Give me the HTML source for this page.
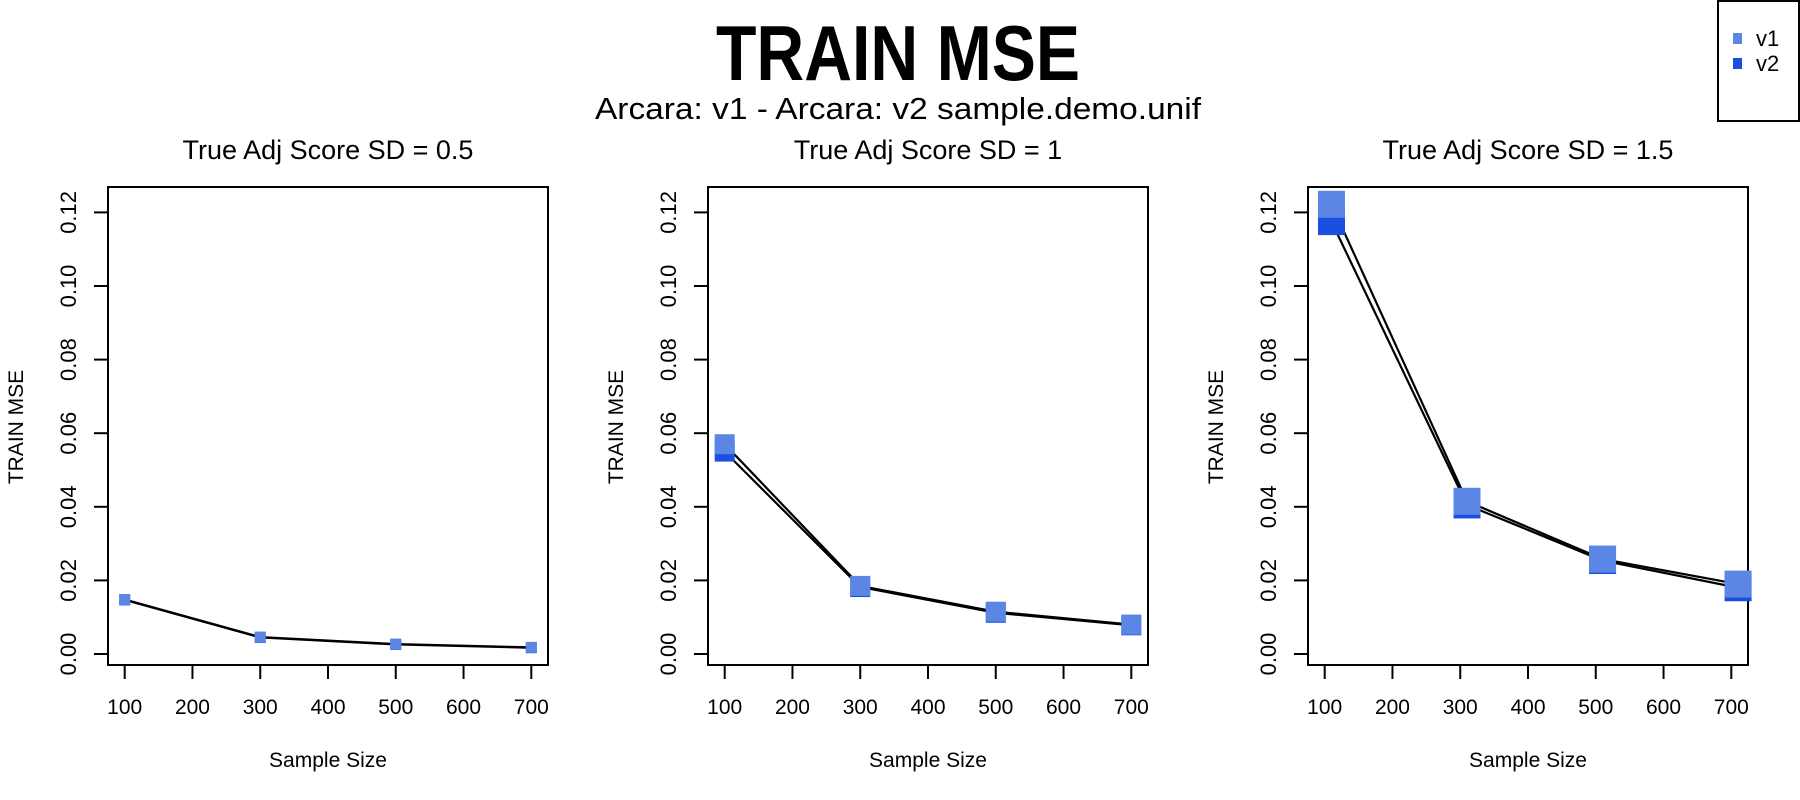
<!DOCTYPE html>
<html><head><meta charset="utf-8"><style>
html,body{margin:0;padding:0;background:#fff;}
svg{display:block;font-family:"Liberation Sans",Arial,sans-serif;}
</style></head><body>
<svg id="chart" width="1800" height="800" viewBox="0 0 1800 800">
<text x="898" y="80" text-anchor="middle" font-size="78" font-weight="bold" textLength="364" lengthAdjust="spacingAndGlyphs">TRAIN MSE</text>
<text x="898" y="119" text-anchor="middle" font-size="31" textLength="606" lengthAdjust="spacingAndGlyphs">Arcara: v1 - Arcara: v2 sample.demo.unif</text>
<g>
<rect x="1718" y="1" width="81" height="120" fill="#fff" stroke="#000" stroke-width="2"/>
<rect x="1733" y="33" width="9" height="11" fill="#5b86e5"/>
<text x="1756" y="46" font-size="22">v1</text>
<rect x="1733" y="58" width="9" height="11" fill="#1a4fe0"/>
<text x="1756" y="71" font-size="22">v2</text>
</g>
</svg>
<script>
const panelTitles = ["True Adj Score SD = 0.5","True Adj Score SD = 1","True Adj Score SD = 1.5"];
const sampleSizes = [100,300,500,700];
const v1Values = [[0.0148,0.0046,0.0027,0.0018],[0.057,0.0185,0.0115,0.008],[0.1222,0.0415,0.0258,0.0190]];
const v2Values = [[0.0147,0.0045,0.0026,0.0017],[0.055,0.0182,0.0112,0.0078],[0.1175,0.0405,0.0254,0.0180]];
const xJitter = [0,0,10];
const markerSizes = [11,20,27];
const yTicks = [0,0.02,0.04,0.06,0.08,0.10,0.12];
const yTickLabels = ["0.00","0.02","0.04","0.06","0.08","0.10","0.12"];
const xTicks = [100,200,300,400,500,600,700];

const svgEl = document.getElementById('chart');
const NS = 'http://www.w3.org/2000/svg';
function mk(tag, attrs, parent){const e=document.createElementNS(NS,tag);for(const k in attrs)e.setAttribute(k,attrs[k]);(parent||svgEl).appendChild(e);return e;}

const plotTop=187, plotBottom=665, plotWidth=440;
function yScale(v){return 654 - v*3680;}
panelTitles.forEach((title,p)=>{
  const left = 108 + 600*p;
  const xScale = x => left + 16.7 + (x-100)*(406.6/600);
  const g = mk('g',{});
  
  
  const t = mk('text',{x:left+plotWidth/2,y:159,'text-anchor':'middle','font-size':27},g);
  t.textContent = title;
  
  
  const box = mk('rect',{x:left,y:plotTop,width:plotWidth,height:plotBottom-plotTop,fill:'none',stroke:'#000','stroke-width':2},g);
  
  
  yTicks.forEach((v,i)=>{
    const y=yScale(v);
    const tk=mk('line',{x1:left-14,x2:left,y1:y,y2:y,stroke:'#000','stroke-width':2},g);
    
    
    const lb=mk('text',{x:0,y:0,'text-anchor':'middle','font-size':22,transform:`translate(${left-32},${y}) rotate(-90)`},g);
    lb.textContent=yTickLabels[i];
    
    
  });
  xTicks.forEach(v=>{
    const x=xScale(v);
    const tk=mk('line',{x1:x,x2:x,y1:plotBottom,y2:plotBottom+14,stroke:'#000','stroke-width':2},g);
    
    
    const lb=mk('text',{x:x,y:714,'text-anchor':'middle','font-size':21},g);
    lb.textContent=v;
    
    
  });
  const yt=mk('text',{x:0,y:0,'text-anchor':'middle','font-size':21,transform:`translate(${left-85},427) rotate(-90)`},g);
  yt.textContent='TRAIN MSE';
  
  
  const xt=mk('text',{x:left+plotWidth/2,y:767,'text-anchor':'middle','font-size':21},g);
  xt.textContent='Sample Size';
  
  
  const series=[[v2Values,'#1a4fe0','v2'],[v1Values,'#5b86e5','v1']];
  series.forEach(([vals,col,nm])=>{
    const pts = sampleSizes.map((s,i)=>[xScale(s+xJitter[p]), yScale(vals[p][i])]);
    const ln=mk('polyline',{points:pts.map(q=>q.join(',')).join(' '),fill:'none',stroke:'#000','stroke-width':2.2},g);
    
    
  });
  series.forEach(([vals,col,nm])=>{
    const m=markerSizes[p];
    sampleSizes.forEach((s,i)=>{
      const r=mk('rect',{x:xScale(s+xJitter[p])-m/2,y:yScale(vals[p][i])-m/2,width:m,height:m,fill:col},g);
      
      
    });
  });
});
</script>
</body></html>
